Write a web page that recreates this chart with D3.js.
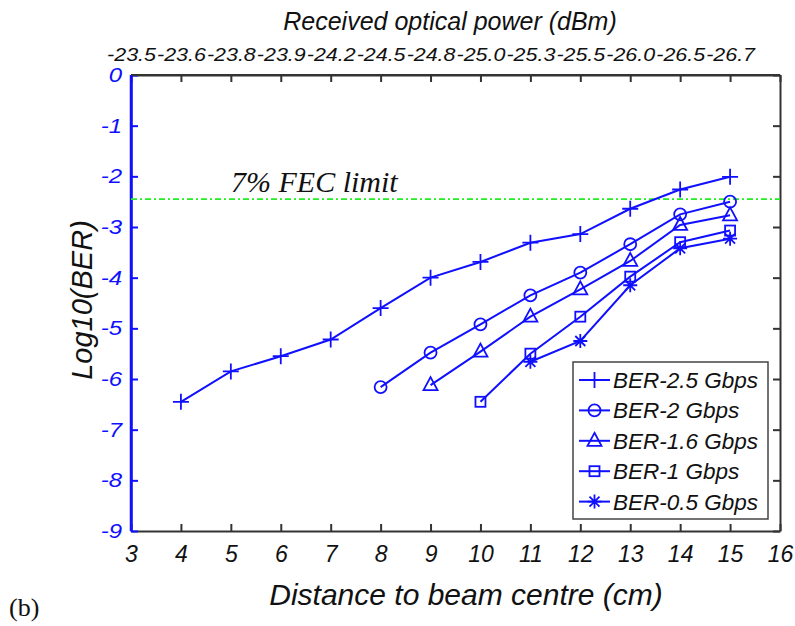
<!DOCTYPE html>
<html><head><meta charset="utf-8">
<script src="https://cdn.jsdelivr.net/npm/d3@7/dist/d3.min.js"></script>
<style>body{margin:0;background:#fff}svg{display:block}</style>
</head><body>
<svg id="c" width="795" height="626"></svg>
<script>
// ---- data ----
const xTicks = [3,4,5,6,7,8,9,10,11,12,13,14,15,16];
const yTicks = [0,-1,-2,-3,-4,-5,-6,-7,-8,-9];
const topLabels = ["-23.5","-23.6","-23.8","-23.9","-24.2","-24.5","-24.8","-25.0","-25.3","-25.5","-26.0","-26.5","-26.7"];
const fecLimit = -2.45;
const seriesNames = ["BER-2.5 Gbps","BER-2 Gbps","BER-1.6 Gbps","BER-1 Gbps","BER-0.5 Gbps"];
const ber25x = [4,5,6,7,8,9,10,11,12,13,14,15];
const ber25y = [-6.45,-5.85,-5.55,-5.22,-4.60,-4.00,-3.69,-3.31,-3.14,-2.64,-2.26,-2.01];
const ber2x = [8,9,10,11,12,13,14,15];
const ber2y = [-6.16,-5.48,-4.92,-4.35,-3.90,-3.34,-2.75,-2.50];
const ber16x = [9,10,11,12,13,14,15];
const ber16y = [-6.12,-5.46,-4.77,-4.23,-3.67,-2.96,-2.77];
const ber1x = [10,11,12,13,14,15];
const ber1y = [-6.45,-5.50,-4.77,-3.98,-3.30,-3.07];
const ber05x = [11,12,13,14,15];
const ber05y = [-5.66,-5.25,-4.15,-3.42,-3.23];

const markers = ["plus","circle","triangle","square","star"];
const series = [
  {name:seriesNames[0], xs:ber25x, ys:ber25y, m:markers[0]},
  {name:seriesNames[1], xs:ber2x, ys:ber2y, m:markers[1]},
  {name:seriesNames[2], xs:ber16x, ys:ber16y, m:markers[2]},
  {name:seriesNames[3], xs:ber1x, ys:ber1y, m:markers[3]},
  {name:seriesNames[4], xs:ber05x, ys:ber05y, m:markers[4]},
];

const BLUE = "#1010ff";
const svg = d3.select("#c");
const L=131, R=780, T=75, B=531;
const x = d3.scaleLinear().domain([3,16]).range([L,R]);
const y = d3.scaleLinear().domain([-9,0]).range([B,T]);
const SANS = "'Liberation Sans', Arial, sans-serif";

function stretch(sel, f){
  sel.each(function(){
    const w = this.getComputedTextLength();
    if(w>0) d3.select(this).attr("textLength", w*f).attr("lengthAdjust","spacingAndGlyphs");
  });
}

const tk = 7;
const gB = svg.append("g").attr("transform",`translate(0,${B})`)
  .call(d3.axisBottom(x).tickValues(xTicks).tickSizeInner(-tk).tickSizeOuter(0).tickPadding(15).tickFormat(d=>String(d)));
const gT = svg.append("g").attr("transform",`translate(0,${T})`)
  .call(d3.axisTop(x).tickValues(xTicks).tickSizeInner(-tk).tickSizeOuter(0).tickPadding(14).tickFormat((d,i)=> i<topLabels.length ? topLabels[i] : ""));
const gR = svg.append("g").attr("transform",`translate(${R},0)`)
  .call(d3.axisRight(y).tickValues(yTicks).tickSizeInner(-tk).tickSizeOuter(0).tickFormat(""));
const gL = svg.append("g").attr("transform",`translate(${L},0)`)
  .call(d3.axisLeft(y).tickValues(yTicks).tickSizeInner(-tk).tickSizeOuter(0).tickPadding(9).tickFormat(d=>String(d)));

[gB,gT,gR].forEach(g=>{
  g.select(".domain").attr("stroke","#333").attr("stroke-width",2);
  g.selectAll(".tick line").attr("stroke","#333").attr("stroke-width",2);
  g.selectAll(".tick text").attr("fill","#111").style("font-family",SANS).style("font-style","italic");
});
gB.selectAll(".tick text").style("font-size","23px");
gT.selectAll(".tick text").style("font-size","18px").attr("dy","0em");
stretch(gT.selectAll(".tick text"), 1.19);
gL.select(".domain").attr("stroke",BLUE).attr("stroke-width",2.5);
gL.selectAll(".tick line").attr("stroke",BLUE).attr("stroke-width",2);
gL.selectAll(".tick text").attr("fill",BLUE).style("font-family",SANS).style("font-style","italic").style("font-size","20px");
stretch(gL.selectAll(".tick text"), 1.2);
svg.append("line").attr("x1",L).attr("x2",R).attr("y1",T).attr("y2",T).attr("stroke","#333").attr("stroke-width",2);
svg.append("line").attr("x1",L).attr("x2",L).attr("y1",T).attr("y2",B).attr("stroke",BLUE).attr("stroke-width",2.5);

// FEC line
svg.append("line").attr("x1",x(3)).attr("x2",x(16)).attr("y1",y(fecLimit)).attr("y2",y(fecLimit))
  .attr("stroke","#22ee22").attr("stroke-width",1.6).attr("stroke-dasharray","6,3,2,3");
svg.append("text").attr("x",231).attr("y",y(fecLimit)-7).text("7% FEC limit")
  .style("font-family","'Liberation Serif', 'Times New Roman', serif").style("font-style","italic").style("font-size","30px").attr("fill","#111");

function drawMarker(g, m, cx, cy){
  const s = g.append("g").attr("transform",`translate(${cx},${cy})`)
    .attr("stroke",BLUE).attr("stroke-width",1.8).attr("fill","none");
  if(m==="plus"){
    s.append("path").attr("d","M-8,0H8M0,-8V8");
  } else if(m==="circle"){
    s.append("circle").attr("r",6);
  } else if(m==="triangle"){
    s.append("path").attr("d","M0,-8L7,5H-7Z");
  } else if(m==="square"){
    s.append("rect").attr("x",-5).attr("y",-5).attr("width",10).attr("height",10);
  } else if(m==="star"){
    s.append("path").attr("d","M-7,0H7M0,-7V7M-5,-5L5,5M-5,5L5,-5");
  }
}

const line = d3.line().x(d=>x(d[0])).y(d=>y(d[1]));
series.forEach(s=>{
  const pts = s.xs.map((v,i)=>[v,s.ys[i]]);
  svg.append("path").datum(pts).attr("d",line).attr("fill","none").attr("stroke",BLUE).attr("stroke-width",2);
  const g = svg.append("g");
  pts.forEach(p=>drawMarker(g,s.m,x(p[0]),y(p[1])));
});

// legend
const lg = svg.append("g");
lg.append("rect").attr("x",573).attr("y",362).attr("width",195).attr("height",157)
  .attr("fill","#fff").attr("stroke","#444").attr("stroke-width",1.5);
series.forEach((s,i)=>{
  const cy = 380 + i*30.4;
  lg.append("line").attr("x1",579).attr("x2",610).attr("y1",cy).attr("y2",cy).attr("stroke",BLUE).attr("stroke-width",2);
  drawMarker(lg, s.m, 594.5, cy);
  lg.append("text").attr("x",613).attr("y",cy+8).text(s.name)
    .style("font-family",SANS).style("font-style","italic").style("font-size","22.5px").attr("fill","#111");
});

// titles
svg.append("text").attr("x",450).attr("y",30).attr("text-anchor","middle").text("Received optical power (dBm)")
  .style("font-family",SANS).style("font-style","italic").style("font-size","25px").attr("fill","#111");
svg.append("text").attr("x",466).attr("y",605).attr("text-anchor","middle").text("Distance to beam centre (cm)")
  .style("font-family",SANS).style("font-style","italic").style("font-size","30px").attr("fill","#111");
svg.append("text").attr("transform","translate(92,300) rotate(-90)").attr("text-anchor","middle").text("Log10(BER)")
  .style("font-family",SANS).style("font-style","italic").style("font-size","29px").attr("fill","#111");
svg.append("text").attr("x",9).attr("y",616).text("(b)")
  .style("font-family","'Liberation Serif', 'Times New Roman', serif").style("font-size","26px").attr("fill","#111");
</script>
</body></html>
